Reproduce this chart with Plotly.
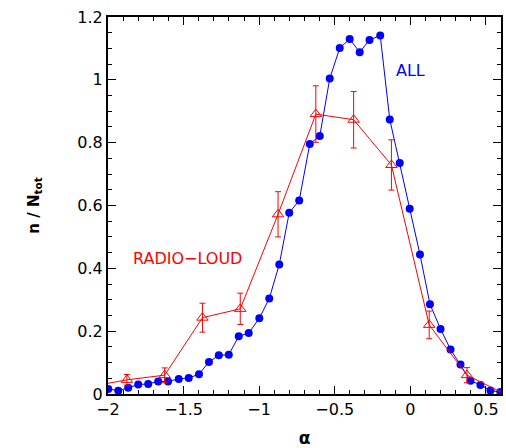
import plotly.graph_objects as go

# ALL sample (blue filled circles)
all_alpha = [-2.065, -1.998, -1.932, -1.866, -1.800, -1.734, -1.668, -1.603, -1.532, -1.466,
             -1.398, -1.332, -1.267, -1.201, -1.135, -1.069, -0.999, -0.933, -0.867,
             -0.801, -0.735, -0.665, -0.599, -0.533, -0.467, -0.401, -0.335, -0.270,
             -0.199, -0.136, -0.070, -0.004, 0.064, 0.130, 0.200, 0.266, 0.332, 0.398,
             0.464, 0.530, 0.596]
all_vals = [0.022, 0.016, 0.0105, 0.020, 0.030, 0.032, 0.040, 0.040, 0.048, 0.051,
            0.063, 0.102, 0.123, 0.125, 0.184, 0.194, 0.241, 0.304, 0.412,
            0.577, 0.616, 0.796, 0.821, 1.004, 1.101, 1.130, 1.088, 1.127,
            1.141, 0.874, 0.735, 0.590, 0.444, 0.286, 0.207, 0.142, 0.094, 0.042,
            0.029, 0.011, 0.006]

# RADIO-LOUD sample (red open triangles with error bars)
rl_alpha = [-2.125, -1.875, -1.625, -1.375, -1.125, -0.875, -0.625, -0.375, -0.125, 0.125, 0.375, 0.625]
rl_vals = [0.023, 0.045, 0.060, 0.243, 0.271, 0.572, 0.891, 0.873, 0.729, 0.220, 0.060, 0.0]
rl_err = [0.0, 0.017, 0.023, 0.046, 0.050, 0.072, 0.090, 0.090, 0.080, 0.044, 0.024, 0.0]

x_ticks = [-2, -1.5, -1, -0.5, 0, 0.5]
x_ticklabels = ["−2", "−1.5", "−1", "−0.5", "0", "0.5"]
y_ticks = [0, 0.2, 0.4, 0.6, 0.8, 1, 1.2]
y_ticklabels = ["0", "0.2", "0.4", "0.6", "0.8", "1", "1.2"]

fig = go.Figure()
fig.add_trace(go.Scatter(
    x=all_alpha, y=all_vals, mode="lines+markers",
    line=dict(color="#0000ff", width=1),
    marker=dict(symbol="circle", size=8, color="#0000ff"),
    showlegend=False, cliponaxis=True))
fig.add_trace(go.Scatter(
    x=rl_alpha, y=rl_vals, mode="lines+markers",
    line=dict(color="#ff0000", width=1),
    marker=dict(symbol="triangle-up-open", size=10, color="#ff0000", line=dict(width=1)),
    error_y=dict(type="data", array=rl_err, color="#ff0000", thickness=1, width=3),
    showlegend=False, cliponaxis=True))

font = "DejaVu Sans, Arial, sans-serif"
fig.add_annotation(x=0.003, y=1.029, text="ALL", showarrow=False,
                   font=dict(family=font, size=16, color="#0000ff"))
fig.add_annotation(x=-1.476, y=0.43, text="RADIO−LOUD", showarrow=False,
                   font=dict(family=font, size=16, color="#ff0000"))

axis_common = dict(
    showgrid=False, zeroline=False, showline=True, linecolor="black", linewidth=2,
    mirror="allticks", ticks="inside", ticklen=8, tickwidth=1, tickcolor="black",
    tickfont=dict(family=font, size=16, color="black"),
)
fig.update_xaxes(range=[-2, 0.6], tickvals=x_ticks, ticktext=x_ticklabels,
                 minor=dict(dtick=0.1, ticks="inside", ticklen=4, tickcolor="black"),
                 title=dict(text="<b>α</b>", font=dict(family=font, size=17, color="black"), standoff=14),
                 **axis_common)
fig.update_yaxes(range=[0, 1.2], tickvals=y_ticks, ticktext=y_ticklabels,
                 minor=dict(dtick=0.05, ticks="inside", ticklen=4, tickcolor="black"),
                 title=dict(text="<b>n / N<sub>tot</sub></b>", font=dict(family=font, size=15, color="black"), standoff=34),
                 **axis_common)
fig.update_layout(width=506, height=448, margin=dict(l=108, r=3, t=17, b=54),
                  plot_bgcolor="white", paper_bgcolor="white")
fig.write_html("out.html", config={"displayModeBar": False},
               post_script="document.body.style.margin='0px';document.body.style.overflow='hidden';")
